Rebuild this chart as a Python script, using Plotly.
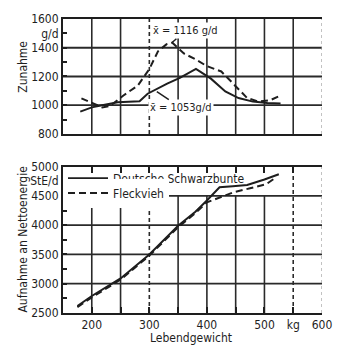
import plotly.graph_objects as go

# ---- data ----
# Top panel: Zunahme (g/d)
gain_x_dsb = [180, 200, 218, 245, 283, 297, 331, 353, 381, 407, 432, 455, 480, 505, 528]
gain_dsb = [955, 985, 1000, 1020, 1027, 1080, 1150, 1190, 1253, 1185, 1096, 1050, 1025, 1015, 1012]
gain_x_fv = [182, 200, 218, 232, 255, 280, 300, 315, 330, 340, 360, 380, 400, 425, 450, 470, 490, 510, 528]
gain_fv = [1048, 1014, 985, 995, 1068, 1137, 1252, 1375, 1425, 1435, 1360, 1320, 1272, 1235, 1130, 1050, 1025, 1035, 1068]

# Bottom panel: Aufnahme an Nettoenergie (StE/d)
ne_x_dsb = [175, 200, 250, 300, 350, 380, 400, 422, 445, 470, 500, 525]
ne_dsb = [2620, 2790, 3090, 3500, 3990, 4230, 4420, 4648, 4665, 4685, 4780, 4870]
ne_x_fv = [175, 200, 250, 300, 350, 380, 400, 425, 447, 475, 503, 520]
ne_fv = [2600, 2765, 3070, 3480, 3965, 4205, 4390, 4480, 4564, 4630, 4698, 4815]

series_names = ["Deutsche Schwarzbunte", "Fleckvieh"]

top_ticks = [800, 900, 1000, 1100, 1200, 1300, 1400, 1500, 1600]
top_ticktext = ["800", "", "1000", "", "1200", "", "1400", "g/d", "1600"]
bot_ticks = [2500, 2750, 3000, 3250, 3500, 3750, 4000, 4250, 4500, 4750, 5000]
bot_ticktext = ["2500", "", "3000", "", "3500", "", "4000", "", "4500", "StE/d", "5000"]
x_ticks = [200, 250, 300, 350, 400, 450, 500, 550, 600]
x_ticktext = ["200", "", "300", "", "400", "", "500", "kg", "600"]

grid_x = [200, 250, 300, 350, 400, 450, 500, 550]
grid_top_y = [1000, 1200, 1400]
grid_bot_y = [3000, 3500, 4000, 4500]

mean_fv_label = "x̄ = 1116 g/d"
mean_dsb_label = "x̄ = 1053g/d"

FONT = "Liberation Sans Narrow, DejaVu Sans Condensed, Roboto, sans-serif"
INK = "#1e1e1e"
GRID = "#2a2a2a"

fig = go.Figure()

# top panel traces
fig.add_trace(go.Scatter(x=gain_x_dsb, y=gain_dsb, mode="lines", name=series_names[0],
                         line=dict(color=INK, width=2), xaxis="x", yaxis="y", showlegend=False))
fig.add_trace(go.Scatter(x=gain_x_fv, y=gain_fv, mode="lines", name=series_names[1],
                         line=dict(color=INK, width=2, dash="7px,4px"), xaxis="x", yaxis="y",
                         showlegend=False))
# bottom panel traces
fig.add_trace(go.Scatter(x=ne_x_dsb, y=ne_dsb, mode="lines", name=series_names[0],
                         line=dict(color=INK, width=2), xaxis="x2", yaxis="y2", legend="legend"))
fig.add_trace(go.Scatter(x=ne_x_fv, y=ne_fv, mode="lines", name=series_names[1],
                         line=dict(color=INK, width=2, dash="7px,4px"), xaxis="x2", yaxis="y2",
                         legend="legend2"))

axis_common = dict(showline=True, linecolor=INK, linewidth=2, showgrid=False, zeroline=False,
                   tickfont=dict(family=FONT, size=12, color=INK))

leg_common = dict(xanchor="left", yanchor="middle", font=dict(family=FONT, size=12, color=INK),
                  itemwidth=40, borderwidth=0)

fig.update_layout(
    width=344, height=347,
    margin=dict(l=63, r=13, t=14, b=34),
    paper_bgcolor="white", plot_bgcolor="white",
    font=dict(family=FONT, color=INK, size=12),
    xaxis=dict(domain=[0, 1], range=[150, 600], anchor="y", mirror=True,
               showticklabels=False, ticks="", **axis_common),
    yaxis=dict(domain=[0.609, 1], range=[800, 1600], anchor="x",
               tickvals=top_ticks, ticktext=top_ticktext, ticks="inside", ticklen=4,
               tickcolor=INK, tickwidth=1.5, **axis_common),
    xaxis2=dict(domain=[0, 1], range=[150, 600], anchor="y2", mirror="allticks",
                tickvals=x_ticks, ticktext=x_ticktext, ticks="inside", ticklen=6,
                tickcolor=INK, tickwidth=1.5, **axis_common),
    yaxis2=dict(domain=[0, 0.498], range=[2500, 5000], anchor="x2",
                tickvals=bot_ticks, ticktext=bot_ticktext, ticks="inside", ticklen=4,
                tickcolor=INK, tickwidth=1.5, **axis_common),
    legend=dict(x=0.0, y=0.458, bgcolor="rgba(0,0,0,0)", **leg_common),
    legend2=dict(x=0.0, y=0.408, bgcolor="white", **leg_common),
)

shapes = []
# top panel grid
for gx in grid_x:
    shapes.append(dict(type="line", xref="x", yref="y domain", x0=gx, x1=gx, y0=0, y1=1,
                       line=dict(color=GRID, width=1.6, dash="4px,3px" if gx == 300 else "solid"),
                       layer="below"))
for g in grid_top_y:
    shapes.append(dict(type="line", xref="x domain", yref="y", x0=0, x1=1, y0=g, y1=g,
                       line=dict(color=GRID, width=1.8), layer="below"))
shapes.append(dict(type="line", xref="x", yref="y domain", x0=600, x1=600, y0=0, y1=1,
                   line=dict(color="#999999", width=1.2, dash="3px,3px"), layer="below"))
# bottom panel grid (verticals stop at the 4500 line, except 550)
for gx in grid_x:
    top = 5000 if gx == 550 else 4500
    shapes.append(dict(type="line", xref="x2", yref="y2", x0=gx, x1=gx, y0=2500, y1=top,
                       line=dict(color=GRID, width=1.6,
                                 dash="4px,3px" if gx in (300, 550) else "solid"),
                       layer="below"))
for g in grid_bot_y:
    shapes.append(dict(type="line", xref="x2 domain", yref="y2", x0=0, x1=1, y0=g, y1=g,
                       line=dict(color=GRID, width=1.8), layer="below"))
shapes.append(dict(type="line", xref="x2", yref="y2 domain", x0=600, x1=600, y0=0, y1=1,
                   line=dict(color="#999999", width=1.2, dash="3px,3px"), layer="below"))
fig.update_layout(shapes=shapes)

ann = [
    dict(text=mean_fv_label, x=339, y=1435, xref="x", yref="y", showarrow=True, arrowhead=0,
         arrowwidth=1.5, arrowcolor=INK, ax=14, ay=-12, bgcolor="white",
         font=dict(family=FONT, size=11, color=INK)),
    dict(text=mean_dsb_label, x=313, y=1095, xref="x", yref="y", showarrow=True, arrowhead=0,
         arrowwidth=1.5, arrowcolor=INK, ax=24, ay=16, bgcolor="white",
         font=dict(family=FONT, size=11, color=INK)),
    dict(text="Zunahme", x=-0.153, y=0.839, xref="paper", yref="paper", textangle=-90,
         showarrow=False, xanchor="center", yanchor="middle",
         font=dict(family=FONT, size=12, color=INK)),
    dict(text="Aufnahme an Nettoenergie", x=-0.153, y=0.251, xref="paper", yref="paper",
         textangle=-90, showarrow=False, xanchor="center", yanchor="middle",
         font=dict(family=FONT, size=12, color=INK)),
    dict(text="Lebendgewicht", x=0.496, y=-0.084, xref="paper", yref="paper", showarrow=False,
         xanchor="center", yanchor="middle", font=dict(family=FONT, size=12, color=INK)),
]
fig.update_layout(annotations=ann)

fig.write_html("out.html")
